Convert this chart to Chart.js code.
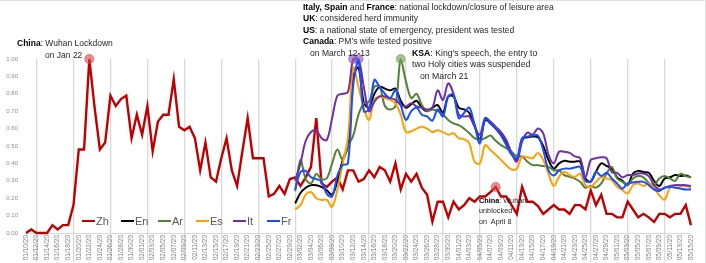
<!DOCTYPE html>
<html><head><meta charset="utf-8">
<script src="https://cdn.jsdelivr.net/npm/chart.js@4/dist/chart.umd.min.js"></script>
<style>
html,body{margin:0;padding:0;background:#fff;}
#wrap{position:relative;width:706px;height:263px;overflow:hidden;font-family:"Liberation Sans",Arial,sans-serif;}
canvas{position:absolute;left:0;top:0;}
.ann{position:absolute;white-space:nowrap;color:#262626;}
.ann b{color:#000;}
.leg{position:absolute;top:214px;height:14px;display:flex;align-items:center;font-size:11px;color:#595959;white-space:nowrap;}
.leg i{display:inline-block;width:13px;height:2.5px;margin-right:1px;}
.edge-top{position:absolute;left:0;top:0;width:706px;height:1px;background:#e0e0e0}
.edge-right{position:absolute;right:0;top:0;width:1px;height:263px;background:#e0e0e0}
</style></head>
<body>
<div id="wrap">
<canvas id="c" width="706" height="263"></canvas>
<div class="edge-top"></div><div class="edge-right"></div>
<div class="ann" style="left:17px;top:37px;font-size:8.5px;line-height:12px"><b>China</b>: Wuhan Lockdown<br><span style="padding-left:28px">on Jan 22</span></div>
<div class="ann" style="left:303px;top:1.5px;font-size:8.55px;line-height:11.5px"><b>Italy, Spain</b> and <b>France</b>: national lockdown/closure of leisure area<br><b>UK</b>: considered herd immunity<br><b>US</b>: a national state of emergency, president was tested<br><b>Canada</b>: PM’s wife tested positive<br><span style="padding-left:7px">on March 12-13</span></div>
<div class="ann" style="left:412px;top:47.5px;font-size:8.7px;line-height:11.8px"><b>KSA</b>: King's speech, the entry to<br>two Holy cities was suspended<br><span style="padding-left:8px">on March 21</span></div>
<div class="ann" style="left:479px;top:195.5px;font-size:7.3px;line-height:10.5px"><b>China</b>: Wuhan<br>unblocked<br>on&nbsp; April 8</div>
<div id="legend"></div>
</div>
<script>
const dates = [
"01/10/20","01/11/20","01/12/20","01/13/20","01/14/20","01/15/20","01/16/20","01/17/20","01/18/20","01/19/20","01/20/20","01/21/20","01/22/20","01/23/20","01/24/20","01/25/20","01/26/20","01/27/20","01/28/20","01/29/20","01/30/20","01/31/20",
"02/01/20","02/02/20","02/03/20","02/04/20","02/05/20","02/06/20","02/07/20","02/08/20","02/09/20","02/10/20","02/11/20","02/12/20","02/13/20","02/14/20","02/15/20","02/16/20","02/17/20","02/18/20","02/19/20","02/20/20","02/21/20","02/22/20","02/23/20","02/24/20","02/25/20","02/26/20","02/27/20","02/28/20","02/29/20",
"03/01/20","03/02/20","03/03/20","03/04/20","03/05/20","03/06/20","03/07/20","03/08/20","03/09/20","03/10/20","03/11/20","03/12/20","03/13/20","03/14/20","03/15/20","03/16/20","03/17/20","03/18/20","03/19/20","03/20/20","03/21/20","03/22/20","03/23/20","03/24/20","03/25/20","03/26/20","03/27/20","03/28/20","03/29/20","03/30/20","03/31/20",
"04/01/20","04/02/20","04/03/20","04/04/20","04/05/20","04/06/20","04/07/20","04/08/20","04/09/20","04/10/20","04/11/20","04/12/20","04/13/20","04/14/20","04/15/20","04/16/20","04/17/20","04/18/20","04/19/20","04/20/20","04/21/20","04/22/20","04/23/20","04/24/20","04/25/20","04/26/20","04/27/20","04/28/20","04/29/20","04/30/20",
"05/01/20","05/02/20","05/03/20","05/04/20","05/05/20","05/06/20","05/07/20","05/08/20","05/09/20","05/10/20","05/11/20","05/12/20","05/13/20","05/14/20","05/15/20"
];
const yTicks = [0,0.1,0.2,0.3,0.4,0.5,0.6,0.7,0.8,0.9,1.0];

const zh = [
0,0.02,0,0,0,0.045,0.02,0.045,0.045,0.16,
0.48,0.48,1.00,0.72,0.48,0.52,0.79,0.73,0.77,0.79,
0.545,0.68,0.565,0.73,0.47,0.64,0.68,0.68,0.885,0.61,
0.59,0.61,0.545,0.36,0.52,0.32,0.295,0.43,0.545,0.36,
0.27,0.47,0.66,0.43,0.43,0.43,0.21,0.225,0.27,0.225,
0.31,0.32,0.27,0.32,0.38,0.66,0.285,0.265,0.295,0.32,
0.25,0.36,0.36,0.295,0.31,0.36,0.32,0.38,0.36,0.295,
0.40,0.25,0.34,0.295,0.34,0.26,0.22,0.065,0.18,0.18,
0.09,0.18,0.135,0.16,0.20,0.18,0.21,0.21,0.235,0.265,
0.21,0.21,0.16,0.11,0.265,0.18,0.18,0.155,0.11,0.135,
0.16,0.135,0.135,0.11,0.16,0.16,0.135,0.245,0.16,0.22,
0.11,0.11,0.09,0.09,0.18,0.135,0.09,0.11,0.09,0.063,
0.11,0.11,0.09,0.11,0.11,0.16,0.045];

// other languages start on 03/01/20
const otherStart = "03/01/20";
const en = [
0.17,0.23,0.26,0.275,0.275,0.265,0.245,0.22,0.30,0.42,
0.50,0.90,0.95,0.75,0.72,0.80,0.84,0.83,0.82,0.83,
0.76,0.72,0.74,0.76,0.72,0.70,0.72,0.735,0.69,0.785,
0.785,0.72,0.71,0.69,0.62,0.535,0.65,0.63,0.60,0.565,
0.515,0.46,0.42,0.54,0.55,0.554,0.55,0.50,0.42,0.37,
0.40,0.415,0.41,0.41,0.41,0.313,0.295,0.352,0.40,0.385,
0.37,0.32,0.30,0.275,0.342,0.357,0.35,0.346,0.30,0.27,
0.313,0.32,0.333,0.327,0.33,0.32];
const ar = [
0.24,0.42,0.31,0.285,0.34,0.31,0.315,0.40,0.48,0.42,
0.50,0.56,0.68,0.745,0.755,0.84,0.84,0.73,0.71,0.73,
1.00,0.87,0.775,0.80,0.735,0.70,0.71,0.70,0.68,0.65,
0.63,0.62,0.60,0.573,0.545,0.535,0.545,0.56,0.53,0.505,
0.487,0.467,0.44,0.44,0.41,0.39,0.39,0.385,0.38,0.36,
0.36,0.333,0.323,0.313,0.294,0.26,0.27,0.26,0.285,0.342,
0.38,0.313,0.294,0.275,0.313,0.327,0.32,0.288,0.275,0.313,
0.327,0.313,0.30,0.34,0.327,0.32];
const es = [
0.135,0.16,0.22,0.235,0.20,0.19,0.19,0.15,0.25,0.40,
0.55,0.95,0.84,0.72,0.65,0.765,0.785,0.775,0.765,0.745,
0.68,0.58,0.585,0.60,0.61,0.60,0.58,0.59,0.58,0.565,
0.573,0.545,0.54,0.515,0.41,0.40,0.505,0.477,0.45,0.42,
0.39,0.365,0.37,0.44,0.435,0.43,0.46,0.42,0.34,0.27,
0.323,0.352,0.333,0.323,0.342,0.275,0.265,0.294,0.32,0.313,
0.304,0.265,0.246,0.227,0.275,0.285,0.27,0.285,0.26,0.217,
0.192,0.26,0.275,0.27,0.27,0.26];
const it = [
0.30,0.40,0.53,0.58,0.59,0.545,0.535,0.66,0.79,0.80,
0.81,1.00,1.00,0.84,0.70,0.755,0.785,0.785,0.775,0.765,
0.735,0.727,0.746,0.727,0.72,0.71,0.72,0.82,0.765,0.86,
0.80,0.68,0.67,0.67,0.61,0.565,0.66,0.64,0.61,0.58,
0.535,0.46,0.41,0.525,0.577,0.565,0.60,0.573,0.45,0.40,
0.467,0.467,0.46,0.44,0.43,0.32,0.42,0.43,0.435,0.43,
0.35,0.346,0.32,0.333,0.333,0.342,0.342,0.327,0.275,0.25,
0.26,0.27,0.275,0.275,0.275,0.27];
const fr = [
0.25,0.35,0.357,0.32,0.31,0.295,0.225,0.21,0.33,0.39,
0.40,0.85,0.99,0.70,0.71,0.88,0.84,0.80,0.775,0.82,
0.735,0.65,0.70,0.72,0.68,0.67,0.646,0.71,0.67,0.785,
0.795,0.66,0.69,0.72,0.62,0.515,0.66,0.63,0.60,0.56,
0.505,0.45,0.43,0.545,0.554,0.56,0.56,0.477,0.36,0.33,
0.36,0.37,0.37,0.377,0.38,0.30,0.295,0.352,0.327,0.346,
0.313,0.285,0.255,0.285,0.29,0.294,0.294,0.275,0.25,0.242,
0.26,0.265,0.26,0.256,0.25,0.25];

// highlighted event dates per series
const zhMarks = ["01/22/20","04/08/20"];
const itMarks = ["03/12/20","03/13/20"];
const arMarks = ["03/21/20"];

const names = ["Zh","En","Ar","Es","It","Fr"];
const colors = ["#c00000","#000000","#548235","#ffa000","#7030a0","#1a4dff"];
const markFill = ["rgba(215,70,70,0.6)",null,"rgba(120,165,95,0.65)",null,"rgba(140,90,190,0.65)",null];
const legendX = [82,121,158,196,233,267];

const off = dates.indexOf(otherStart);
const pad = a => new Array(off).fill(null).concat(a);
const values = [zh, pad(en), pad(ar), pad(es), pad(it), pad(fr)];
const marks = [zhMarks, [], arMarks, [], itMarks, []].map(m => m.map(d => dates.indexOf(d)));

const datasets = names.map((n, k) => ({
  label: n,
  data: values[k],
  borderColor: colors[k],
  backgroundColor: colors[k],
  borderWidth: k === 0 ? 2.4 : 2,
  tension: k === 0 ? 0 : 0.35,
  order: names.length - k,
  clip: false,
  pointRadius: c => marks[k].includes(c.dataIndex) ? 4.5 : 0,
  pointHoverRadius: 0,
  pointBackgroundColor: markFill[k] || colors[k],
  pointBorderColor: markFill[k] || colors[k],
  pointBorderWidth: 1
}));

new Chart(document.getElementById('c'), {
  type: 'line',
  data: { labels: dates, datasets },
  options: {
    responsive: false, animation: false, devicePixelRatio: 1,
    layout: { padding: { left: 2, right: 15, top: 59, bottom: 0 } },
    plugins: { legend: { display: false }, tooltip: { enabled: false } },
    scales: {
      x: {
        type: 'category', offset: false,
        grid: { color: c => (c.index % 7 === 2 ? '#d9d9d9' : 'rgba(0,0,0,0)'), lineWidth: 1.3, drawTicks: true, tickLength: 29, offset: false },
        border: { display: true, color: '#d9d9d9', width: 1 },
        ticks: {
          autoSkip: false, maxRotation: 90, minRotation: 90, padding: -27,
          font: { size: 6.5, family: 'Liberation Sans' }, color: '#7f7f7f',
          callback: function (v, i) { return i % 2 === 0 ? this.getLabelForValue(v) : ''; }
        },
        afterFit: s => { s.height = 30; }
      },
      y: {
        min: 0, max: 1,
        afterBuildTicks: s => { s.ticks = yTicks.map(v => ({ value: v })); },
        ticks: { callback: v => Number(v).toFixed(2), font: { size: 6, family: 'Liberation Sans' }, color: '#8c8c8c', padding: 8 },
        grid: { display: false, drawTicks: false }, border: { display: false },
        afterFit: s => { s.width = 24; }
      }
    }
  }
});

const lg = document.getElementById('legend');
names.forEach((n, k) => {
  const d = document.createElement('div');
  d.className = 'leg';
  d.style.left = legendX[k] + 'px';
  d.innerHTML = '<i style="background:' + colors[k] + '"></i>' + n;
  lg.appendChild(d);
});
</script>
</body></html>
